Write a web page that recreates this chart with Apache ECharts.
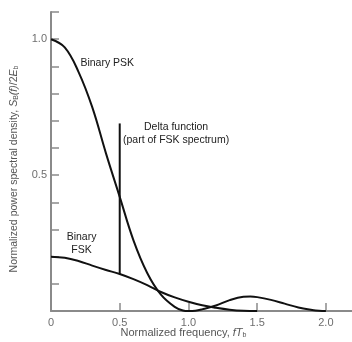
<!DOCTYPE html>
<html>
<head>
<meta charset="utf-8">
<script src="https://cdn.jsdelivr.net/npm/echarts@6/dist/echarts.min.js"></script>
<style>
  html, body { margin: 0; padding: 0; background: #fff; }
  #chart { width: 352px; height: 342px; }
</style>
</head>
<body>
<div id="chart"></div>
<script>
// values
const pskFreq = [0, 0.1, 0.2, 0.3, 0.4, 0.5, 0.6, 0.7, 0.8, 0.9, 0.96, 1.0, 1.05, 1.1, 1.2, 1.3, 1.4, 1.45, 1.5, 1.6, 1.7, 1.8, 1.9, 1.95, 2.0];
const pskValues = [1.0, 0.97, 0.88, 0.75, 0.58, 0.42, 0.26, 0.14, 0.06, 0.015, 0.002, 0, 0.001, 0.006, 0.02, 0.04, 0.052, 0.053, 0.051, 0.041, 0.027, 0.013, 0.004, 0.001, 0];

const fskFreq = [0, 0.1, 0.2, 0.3, 0.4, 0.5, 0.6, 0.7, 0.8, 0.9, 1.0, 1.1, 1.2, 1.3, 1.4, 1.5];
const fskValues = [0.2, 0.196, 0.184, 0.167, 0.151, 0.136, 0.117, 0.095, 0.07, 0.05, 0.034, 0.021, 0.012, 0.005, 0.001, 0];

// delta function at f = 1/2Tb
const deltaFreq = [0.5, 0.5];
const deltaValues = [0.136, 0.69];

const xTickValues = [0.5, 1.0, 1.5, 2.0];
const xLabelValues = [0, 0.5, 1.0, 1.5, 2.0];
const yTickValues = [0.1, 0.2, 0.3, 0.4, 0.5, 0.6, 0.7, 0.8, 0.9, 1.0, 1.1];
const yLabelValues = [0.5, 1.0];

const pairs = (xs, ys) => xs.map((x, i) => [x, ys[i]]);

const font = '"Liberation Sans", Arial, sans-serif';
const axisGrey = '#8a8a8a';
const labelGrey = '#6e6e6e';

let myChart = echarts.init(document.getElementById('chart'));
myChart.setOption({
  animation: false,
  textStyle: { fontFamily: font },
  grid: { left: 51, top: 12, right: 0, bottom: 31, outerBoundsMode: 'none' },
  xAxis: {
    type: 'value',
    min: 0,
    max: 2.19,
    splitLine: { show: false },
    axisLine: { lineStyle: { color: axisGrey, width: 2 } },
    axisTick: { inside: true, length: 8, customValues: xTickValues, lineStyle: { color: axisGrey, width: 1.5 } },
    axisLabel: {
      customValues: xLabelValues,
      color: labelGrey,
      fontSize: 11,
      margin: 6,
      formatter(val) {
        return val === 0 ? '0' : val.toFixed(1);
      }
    },
    name: 'Normalized frequency, {i|fT}{sub|b}',
    nameLocation: 'middle',
    nameMoveOverlap: false,
    nameGap: 16,
    nameTextStyle: {
      color: '#555',
      fontSize: 11,
      padding: [0, 36, 0, 0],
      rich: {
        i: { fontStyle: 'italic', fontSize: 11, color: '#555' },
        sub: { fontSize: 7, color: '#555', verticalAlign: 'bottom', padding: [5, 0, 0, 0] }
      }
    }
  },
  yAxis: {
    type: 'value',
    min: 0,
    max: 1.1,
    splitLine: { show: false },
    axisLine: { lineStyle: { color: axisGrey, width: 2 } },
    axisTick: { inside: true, length: 8, customValues: yTickValues, lineStyle: { color: axisGrey, width: 1.5 } },
    axisLabel: {
      customValues: yLabelValues,
      color: labelGrey,
      fontSize: 11,
      margin: 4,
      formatter(val) {
        return val.toFixed(1);
      }
    },
    name: 'Normalized power spectral density, {i|S}{sub|B}{i|(f)}/2{i|E}{sub|b}',
    nameLocation: 'middle',
    nameGap: 31,
    nameTextStyle: {
      color: '#555',
      fontSize: 10.5,
      padding: [0, 15, 0, 0],
      rich: {
        i: { fontStyle: 'italic', fontSize: 10.5, color: '#555' },
        sub: { fontSize: 7, color: '#555', verticalAlign: 'bottom', padding: [5, 0, 0, 0] }
      }
    }
  },
  series: [
    {
      name: 'Binary PSK',
      type: 'line',
      data: pairs(pskFreq, pskValues),
      smooth: 0.4,
      symbol: 'none',
      lineStyle: { color: '#111', width: 2 }
    },
    {
      name: 'Binary FSK',
      type: 'line',
      data: pairs(fskFreq, fskValues),
      smooth: 0.4,
      symbol: 'none',
      lineStyle: { color: '#111', width: 2 }
    },
    {
      name: 'Delta function',
      type: 'line',
      data: pairs(deltaFreq, deltaValues),
      symbol: 'none',
      lineStyle: { color: '#111', width: 2 }
    }
  ]
});

// annotations placed in data coordinates
const notes = [
  { at: [0.214, 0.912], text: 'Binary PSK', align: 'left' },
  { at: [0.91, 0.653], text: 'Delta function\n(part of FSK spectrum)', align: 'center' },
  { at: [0.222, 0.248], text: 'Binary\nFSK', align: 'center' }
];
myChart.setOption({
  graphic: notes.map(n => {
    const p = myChart.convertToPixel({ gridIndex: 0 }, n.at);
    return {
      type: 'text',
      x: p[0],
      y: p[1],
      style: {
        text: n.text,
        fill: '#222',
        font: '10.5px ' + font,
        align: n.align,
        verticalAlign: 'middle',
        lineHeight: 13
      }
    };
  })
});
</script>
</body>
</html>
